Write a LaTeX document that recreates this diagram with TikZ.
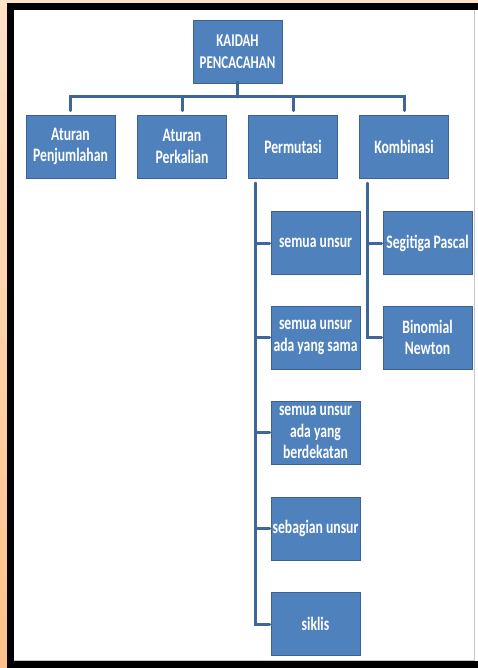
\documentclass[tikz,border=0pt]{standalone}
\usepackage{fontspec}
\setmainfont[FakeStretch=0.72]{Carlito}
\definecolor{boxblue}{RGB}{79,129,189}
\definecolor{boxedge}{RGB}{60,98,145}
\definecolor{conncol}{RGB}{62,103,152}
\definecolor{peachtop}{RGB}{255,225,200}
\definecolor{peachbot}{RGB}{255,192,138}
\tikzset{
  kbox/.style={fill=boxblue, draw=boxedge, line width=0.6pt, text=white,
    minimum width=89pt, minimum height=63pt, inner sep=0pt, align=center,
    font=\bfseries\fontsize{19}{21.7}\selectfont},
  conn/.style={draw=conncol, line width=3pt, line cap=round}
}
\begin{document}
\begin{tikzpicture}[x=1pt,y=-1pt]
\useasboundingbox (0,0) rectangle (478,668);
% frame
\shade[top color=peachtop, bottom color=peachbot] (0,0) rectangle (478,668);
\fill[black] (7,3) rectangle (478,668);
\fill[white] (14,10) rectangle (478,661);
\draw[gray!45, line width=1pt] (14,660.5) -- (474,660.5) -- (474,10);
% nodes
\node[kbox, font=\bfseries\fontsize{18}{21.5}\selectfont] (top) at (237.5,51.5) {KAIDAH\\PENCACAHAN};
\node[kbox] (a1) at (70.5,146.5) {Aturan\\Penjumlahan};
\node[kbox] (a2) at (182,146.5) {Aturan\\Perkalian};
\node[kbox] (perm) at (293,146.5) {Permutasi};
\node[kbox] (komb) at (404,146.5) {Kombinasi};
\node[kbox] (p1) at (315.5,243) {semua unsur};
\node[kbox] (p2) at (315.5,337.5) {semua unsur\\ada yang sama};
\node[kbox] (p3) at (315.5,432.5) {semua unsur\\ada yang\\berdekatan};
\node[kbox] (p4) at (315.5,528.5) {sebagian unsur};
\node[kbox] (p5) at (315.5,624) {siklis};
\node[kbox] (k1) at (427.5,243) {Segitiga Pascal};
\node[kbox] (k2) at (427.5,337.5) {Binomial\\Newton};
% connectors
\coordinate (bus) at (237.5,97);
\draw[conn] ([yshift=1.5pt]top.south) -- (bus);
\draw[conn] ([yshift=4pt]a1.north) |- (bus);
\draw[conn] ([yshift=4pt]a2.north) |- (bus);
\draw[conn] ([yshift=4pt]perm.north) |- (bus);
\draw[conn] ([yshift=4pt]komb.north) |- (bus);
\coordinate (pt) at ([xshift=7pt,yshift=-5pt]perm.south west);
\coordinate (kt) at ([xshift=8pt,yshift=-5pt]komb.south west);
\foreach \n in {p1,p2,p3,p4,p5} \draw[conn] (pt) |- ([xshift=-1pt]\n.west);
\foreach \n in {k1,k2} \draw[conn] (kt) |- ([xshift=-1pt]\n.west);
\end{tikzpicture}
\end{document}
